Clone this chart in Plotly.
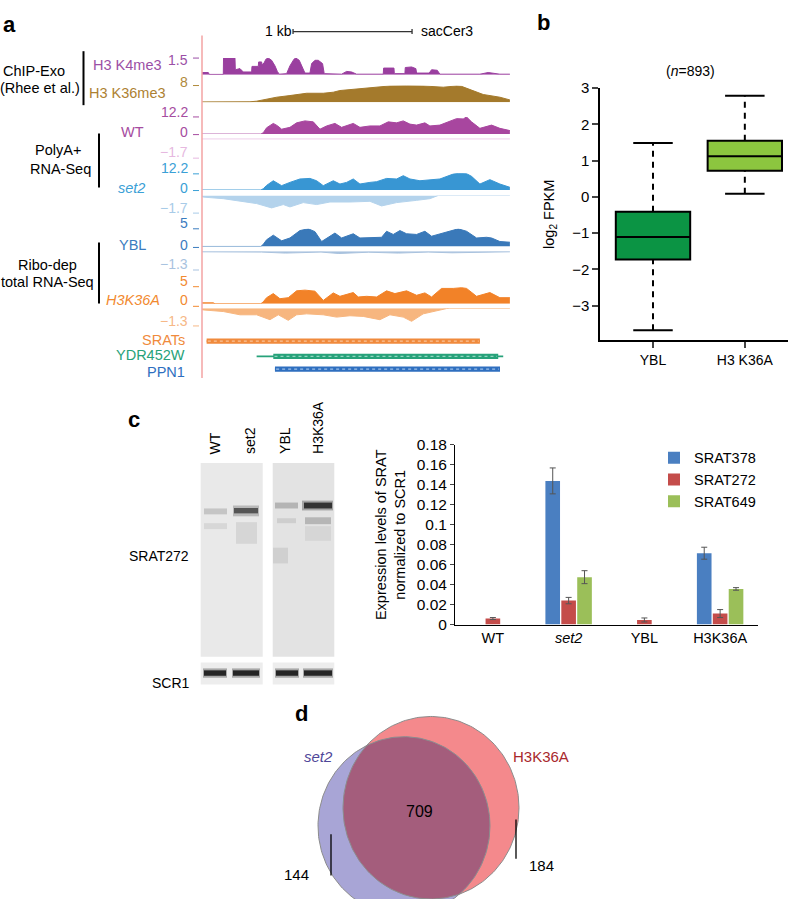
import numpy as np
import plotly.graph_objects as go

W, H = 788, 907
FONT = "Liberation Sans, Arial, Helvetica, sans-serif"

# ======================= DATA =======================
# Panel a: genome-browser coverage, (position in bp, signal) pairs, window ~2.59 kb
k4me3 = [(0, 0.2), (53, 0.2), (61, 0.03), (179, 0.03), (181, 1.5), (277, 1.5), (280, 0.45), (305, 0.5),
         (319, 0.55), (347, 0.25), (417, 0.25), (420, 0.75), (473, 0.75), (476, 1.15), (501, 1.15),
         (504, 0.9), (521, 1.05), (537, 1.4), (557, 1.5), (585, 1.3), (613, 0.8), (633, 0.3), (649, 0.05),
         (711, 0.1), (739, 0.8), (773, 1.4), (789, 1.5), (817, 1.3), (845, 0.7), (865, 0.15), (907, 0.15),
         (921, 1.0), (949, 1.3), (977, 1.3), (1013, 1.0), (1027, 0.1), (1173, 0.05), (1215, 0.3),
         (1257, 0.25), (1299, 0.05), (1523, 0.05), (1526, 0.6), (1613, 0.6), (1616, 0.1), (1705, 0.1),
         (1708, 0.65), (1761, 0.7), (1797, 0.55), (1803, 0.15), (1909, 0.15), (1929, 0.45), (1977, 0.4),
         (1999, 0.05), (2335, 0.05), (2405, 0.2), (2461, 0.15), (2503, 0.05), (2587, 0.05)]
k36me3 = [(0, 0.15), (179, 0.1), (403, 0.2), (459, 0.5), (543, 1.6), (627, 2.4), (739, 3.2), (823, 3.7),
          (879, 4.3), (1019, 4.3), (1103, 4.8), (1159, 5.6), (1299, 6.4), (1439, 7.2), (1579, 7.8),
          (1719, 7.9), (1859, 7.8), (2027, 7.2), (2139, 7.8), (2181, 7.6), (2279, 5.6), (2363, 3.7),
          (2503, 2.4), (2587, 1.1)]
wt_plus = [(0, 0), (495, 0), (515, 1.0), (543, 4.5), (599, 7.6), (633, 6.0), (669, 3.5), (739, 4.8),
           (795, 8.0), (865, 9.4), (935, 8.7), (991, 3.5), (1047, 5.8), (1117, 7.6), (1173, 4.8),
           (1271, 7.6), (1327, 4.8), (1411, 5.8), (1495, 5.8), (1565, 8.7), (1635, 8.0), (1691, 9.4),
           (1747, 7.1), (1803, 6.4), (1873, 8.0), (1915, 5.8), (1999, 6.4), (2083, 9.4), (2139, 11.0),
           (2195, 10.8), (2223, 12.2), (2265, 8.7), (2335, 4.1), (2433, 6.4), (2503, 4.1), (2587, 2.5)]
wt_minus = [(0, -0.03), (800, -0.03), (1500, -0.04), (2587, -0.03)]
set2_plus = [(0, 0), (495, 0), (515, 1.0), (543, 3.4), (599, 6.8), (633, 5.0), (669, 3.2), (739, 5.6),
             (823, 8.1), (907, 8.5), (963, 6.8), (1019, 3.2), (1103, 6.8), (1159, 4.4), (1215, 5.6),
             (1271, 8.1), (1327, 4.4), (1411, 5.6), (1467, 6.1), (1551, 8.5), (1635, 8.1), (1691, 10.5),
             (1747, 8.1), (1831, 6.8), (1915, 7.6), (1999, 8.1), (2111, 11.7), (2153, 12.2), (2223, 12.0),
             (2265, 10.0), (2335, 4.4), (2419, 7.6), (2503, 4.4), (2587, 2.0)]
set2_minus = [(0, -0.1), (11, -0.17), (179, -0.33), (319, -0.6), (459, -0.83), (585, -1.27), (683, -0.93),
              (739, -1.17), (851, -0.73), (963, -0.93), (1075, -0.67), (1243, -0.67), (1411, -0.6),
              (1509, -1.07), (1635, -0.73), (1803, -0.5), (1915, -0.33), (1985, 0), (2587, 0)]
ybl_plus = [(0, 0), (495, 0), (515, 0.6), (543, 1.9), (599, 3.2), (633, 2.4), (669, 1.6), (739, 2.4),
            (823, 4.5), (893, 5.0), (949, 4.2), (1005, 1.4), (1075, 2.9), (1117, 3.8), (1173, 2.4),
            (1271, 3.6), (1327, 2.4), (1411, 2.4), (1509, 2.6), (1551, 4.3), (1607, 3.4), (1663, 4.5),
            (1719, 3.6), (1803, 3.4), (1873, 4.3), (1929, 2.9), (1999, 3.6), (2083, 4.3), (2153, 5.0),
            (2223, 4.3), (2307, 2.4), (2391, 2.6), (2433, 2.4), (2503, 1.4), (2587, 1.2)]
ybl_minus = [(0, -0.03), (500, -0.05), (700, -0.12), (1000, -0.05), (1150, -0.15), (1400, -0.06),
             (1650, -0.12), (1900, -0.05), (2100, -0.1), (2350, -0.04), (2587, -0.03)]
h3k36a_plus = [(0, 0.3), (95, 0.3), (109, 0.05), (495, 0.05), (515, 0.6), (543, 1.8), (599, 3.0),
               (655, 1.5), (725, 1.8), (795, 3.8), (865, 4.0), (949, 3.7), (1019, 1.0), (1103, 3.2),
               (1159, 2.2), (1271, 3.3), (1313, 2.0), (1383, 2.2), (1467, 2.0), (1551, 3.8), (1621, 3.0),
               (1719, 3.8), (1803, 2.5), (1873, 3.2), (1929, 2.0), (2013, 4.5), (2111, 4.5), (2181, 4.7),
               (2223, 4.5), (2307, 2.2), (2419, 3.3), (2503, 1.8), (2587, 1.8)]
h3k36a_minus = [(0, -0.1), (11, -0.12), (179, -0.24), (319, -0.48), (459, -0.48), (571, -0.84),
                (641, -0.48), (725, -0.89), (795, -0.48), (879, -0.41), (1019, -0.48), (1131, -0.65),
                (1243, -0.55), (1355, -0.6), (1495, -0.84), (1579, -0.48), (1691, -0.65), (1761, -0.96),
                (1859, -0.41), (1971, -0.17), (2055, -0.02), (2083, 0), (2587, 0)]
track_scale_max = [1.5, 8, 12.2, -1.7, 12.2, -1.7, 5, -1.3, 5, -1.3]
track_window_bp = 2588
scalebar_bp = 1000

gene_names = ["SRATs", "YDR452W", "PPN1"]
gene_tx_start = [39, 459, 613]
gene_tx_end = [2335, 2531, 2504]
gene_cds_start = [39, 599, 613]
gene_cds_end = [2335, 2489, 2504]

# Panel b: boxplot of log2 FPKM (n=893)
box_cats = ["YBL", "H3 K36A"]
box_lower = [-3.68, 0.09]
box_q1 = [-1.73, 0.72]
box_median = [-1.11, 1.12]
box_q3 = [-0.41, 1.55]
box_upper = [1.49, 2.79]
box_n = 893
box_yticks = [-3, -2, -1, 0, 1, 2, 3]

# Panel c: qPCR bar chart
bar_cats = ["WT", "set2", "YBL", "H3K36A"]
bar_series = ["SRAT378", "SRAT272", "SRAT649"]
srat378 = [None, 0.144, None, 0.0715]
srat272 = [0.006, 0.024, 0.0046, 0.011]
srat649 = [None, 0.0475, None, 0.0357]
srat378_err = [0, 0.013, 0, 0.006]
srat272_err = [0.001, 0.0032, 0.002, 0.004]
srat649_err = [0, 0.0065, 0, 0.0013]
bar_yticks = [0, 0.02, 0.04, 0.06, 0.08, 0.1, 0.12, 0.14, 0.16, 0.18]
bar_yticklabels = ["0", "0.02", "0.04", "0.06", "0.08", "0.1", "0.12", "0.14", "0.16", "0.18"]

# Panel d: Venn counts
venn_sets = ["set2", "H3K36A"]
venn_only = [144, 184]
venn_both = 709

# ======================= HELPERS =======================
def px(x):
    return x / W


def py(y):
    return 1 - y / H


fig = go.Figure()
shapes = []
ann = []


def text(x, y, s, size=14.5, color="black", xanchor="center", yanchor="middle", angle=0, bold=False, italic=False):
    if bold:
        s = "<b>" + s + "</b>"
    if italic:
        s = "<i>" + s + "</i>"
    ann.append(dict(x=px(x), y=py(y), xref="paper", yref="paper", text=s, showarrow=False,
                    xanchor=xanchor, yanchor=yanchor, textangle=angle,
                    font=dict(family=FONT, size=size, color=color)))


def rect(x0, y0, x1, y1, fill, line=None, lw=0, opacity=1.0, xref="paper"):
    if xref == "paper":
        xx0, xx1 = px(x0), px(x1)
    else:
        xx0, xx1 = x0, x1
    shapes.append(dict(type="rect", xref=xref, yref="paper", x0=xx0, x1=xx1, y0=py(y1), y1=py(y0),
                       fillcolor=fill, opacity=opacity, layer="above",
                       line=dict(width=lw, color=line if line else fill)))


def hline(x0, x1, y, color, width=1, xref="paper", dash=None):
    if xref == "paper":
        xx0, xx1 = px(x0), px(x1)
    else:
        xx0, xx1 = x0, x1
    ln = dict(width=width, color=color)
    if dash:
        ln["dash"] = dash
    shapes.append(dict(type="line", xref=xref, yref="paper", x0=xx0, x1=xx1, y0=py(y), y1=py(y), line=ln,
                       layer="above"))


def vline(x, y0, y1, color, width=1, xref="paper"):
    xx = px(x) if xref == "paper" else x
    shapes.append(dict(type="line", xref=xref, yref="paper", x0=xx, x1=xx, y0=py(y0), y1=py(y1),
                       line=dict(width=width, color=color), layer="above"))


layout_axes = {}

# ======================= PANEL a =======================
track_data = [k4me3, k36me3, wt_plus, wt_minus, set2_plus, set2_minus, ybl_plus, ybl_minus,
              h3k36a_plus, h3k36a_minus]
# layout: (pixel y at scale max, pixel y at baseline)
track_geom = [(50, 67), (78, 95), (110, 127.5), (152, 132), (167.5, 184.5), (207, 190),
              (224, 242), (266, 247), (283, 300.5), (323, 305)]
track_colors = ["#9a3f9f", "#a47a2c", "#a8469f", "#ecc6e6", "#3896d3", "#b4d3ec",
                "#3a79b9", "#a9c2de", "#f28228", "#f7b67f"]

layout_axes["xaxis"] = dict(domain=[px(202), px(510)], range=[0, track_window_bp], visible=False,
                            anchor="y", fixedrange=True)
for i, (data, (ymax_px, base_px), col, smax) in enumerate(zip(track_data, track_geom, track_colors,
                                                              track_scale_max)):
    name = "yaxis" if i == 0 else f"yaxis{i + 1}"
    ref = "y" if i == 0 else f"y{i + 1}"
    top_px, bot_px = min(ymax_px, base_px), max(ymax_px, base_px)
    rng = [0, smax] if smax > 0 else [smax, 0]
    layout_axes[name] = dict(domain=[py(bot_px), py(top_px)], range=rng, visible=False, anchor="x")
    xs = [p for p, v in data]
    ys = [v for p, v in data]
    fig.add_trace(go.Scatter(x=xs, y=ys, mode="lines", fill="tozeroy", fillcolor=col,
                             line=dict(color=col, width=1), xaxis="x", yaxis=ref, showlegend=False,
                             hoverinfo="skip"))

# scale labels and ticks (left of the tracks)
scale_lbl = [("1.5", 52, 50, "#9b4fa6"), ("8", 74, 78, "#b08a3a"), ("12.2", 105, 110, "#a64ca0"),
             ("0", 125, 128, "#a64ca0"), ("\u22121.7", 146, 152, "#e6b8e0"), ("12.2", 162, 168, "#3aa0d6"),
             ("0", 182, 185, "#3aa0d6"), ("\u22121.7", 203, 208, "#a8cbe8"), ("5", 218, 224, "#3b7cbf"),
             ("0", 240, 243, "#3b7cbf"), ("\u22121.3", 260, 266, "#a9c3e0"), ("5", 277, 283, "#f28a30"),
             ("0", 297, 303, "#f28a30"), ("\u22121.3", 318, 323, "#f6b887")]
for s, ly, ty, c in scale_lbl:
    text(190, ly, s, size=14, color=c, xanchor="right")
    hline(193, 199, ty, c, width=1)

# browser red vertical line
vline(202, 27, 376, "#f3a3a3", width=1.5)

# left-side track labels
text(34, 63, "ChIP-Exo")
text(40, 81, "(Rhee et al.)")
vline(83.5, 43, 98, "black", width=2)
text(128, 57, "H3 K4me3", color="#9b4fa6")
text(127, 86, "H3 K36me3", color="#ad8132")
text(132, 125, "WT", color="#a64ca0")
text(58, 144, "PolyA+")
text(60, 163, "RNA-Seq")
vline(99, 127, 182, "black", width=2)
text(131, 182, "set2", color="#3aa0d6", italic=True)
text(132, 240, "YBL", color="#3b7cbf")
text(47, 261, "Ribo-dep")
text(47, 278, "total RNA-Seq")
vline(99, 238, 300, "black", width=2)
text(133, 297, "H3K36A", color="#f28a30", italic=True)

# scale bar
sb0 = 765
shapes.append(dict(type="line", xref="x", yref="paper", x0=sb0, x1=sb0 + scalebar_bp, y0=py(23), y1=py(23),
                   line=dict(color="#333", width=1.3)))
for xb in (sb0, sb0 + scalebar_bp):
    shapes.append(dict(type="line", xref="x", yref="paper", x0=xb, x1=xb, y0=py(20.5), y1=py(25.5),
                       line=dict(color="#333", width=1.3)))
text(278, 22, "1 kb", size=14)
text(447, 22, "sacCer3", size=14)

# gene models
gene_y = [338.5, 354, 367]
gene_cols = ["#f08a3c", "#27a27a", "#2f6fbf"]
gene_inner = ["#f8c39a", "#92d6c0", "#9cc0ea"]
for nm, ts, te, cs, ce, gy, gc, gi in zip(gene_names, gene_tx_start, gene_tx_end, gene_cds_start,
                                          gene_cds_end, gene_y, gene_cols, gene_inner):
    rect(ts, gy - 1, te, gy + 1, gc, xref="x")
    rect(cs, gy - 2.6, ce, gy + 2.6, gc, xref="x")
    hline(cs + 10, ce - 10, gy, gi, width=1.3, xref="x", dash="dot")
    text(187, gy - 1 if nm != "PPN1" else gy + 3, nm, color=gc, xanchor="right")

# ======================= PANEL b =======================
box_cols = ["#0b9444", "#8cc63f"]
bw, cw = 0.81, 0.43
layout_axes["xaxis2"] = dict(domain=[px(600), px(788)], range=[-0.577, 1.47], anchor="y11",
                             tickvals=[0, 1], ticktext=box_cats, ticks="outside", ticklen=6, tickwidth=1.5,
                             showline=True, linecolor="black", linewidth=1.5, showgrid=False, zeroline=False,
                             tickfont=dict(family=FONT, size=14, color="black"), fixedrange=True)
layout_axes["yaxis11"] = dict(domain=[py(337.7), py(80.7)], range=[-3.96, 3], anchor="x2",
                              tickvals=box_yticks, ticks="outside", ticklen=6, tickwidth=1.5,
                              showline=True, linecolor="black", linewidth=1.5, showgrid=False,
                              zeroline=False, tickfont=dict(family=FONT, size=15, color="black"),
                              title=dict(text="log<sub>2</sub> FPKM", standoff=14,
                                         font=dict(family=FONT, size=14.5, color="black")),
                              fixedrange=True)
xb = list(range(len(box_cats)))
fig.add_trace(go.Bar(x=xb, base=box_q1, y=[q3 - q1 for q1, q3 in zip(box_q1, box_q3)], width=bw,
                     marker=dict(color=box_cols, line=dict(color="black", width=2)),
                     xaxis="x2", yaxis="y11", showlegend=False, hoverinfo="skip"))
for i in xb:
    fig.add_trace(go.Scatter(x=[i - bw / 2, i + bw / 2], y=[box_median[i]] * 2, mode="lines",
                             line=dict(color="black", width=2), xaxis="x2", yaxis="y11", showlegend=False))
    for a, b in ((box_q3[i], box_upper[i]), (box_lower[i], box_q1[i])):
        fig.add_trace(go.Scatter(x=[i, i], y=[a, b], mode="lines",
                                 line=dict(color="black", width=2, dash="6px,5px"),
                                 xaxis="x2", yaxis="y11", showlegend=False))
    for v in (box_upper[i], box_lower[i]):
        fig.add_trace(go.Scatter(x=[i - cw / 2, i + cw / 2], y=[v, v], mode="lines",
                                 line=dict(color="black", width=2), xaxis="x2", yaxis="y11",
                                 showlegend=False))
text(690, 63, f"(<i>n</i>={box_n})", size=14)

# ======================= PANEL c (bars) =======================
bar_cols = ["#4a7fc1", "#c44c4a", "#9bbf59"]
bar_vals = [srat378, srat272, srat649]
bar_errs = [srat378_err, srat272_err, srat649_err]
tick_txt = [("<i>" + c + "</i>") if c == "set2" else c for c in bar_cats]
for nm, vals, errs, col in zip(bar_series, bar_vals, bar_errs, bar_cols):
    fig.add_trace(go.Bar(x=bar_cats, y=vals, name=nm, marker=dict(color=col, line=dict(width=0)),
                         error_y=dict(type="data", array=errs, color="#555555", thickness=1, width=3),
                         xaxis="x3", yaxis="y12"))
layout_axes["xaxis3"] = dict(domain=[px(455), px(758)], anchor="y12", showline=True, linecolor="black",
                             linewidth=1, ticks="", tickvals=bar_cats, ticktext=tick_txt,
                             tickfont=dict(family=FONT, size=14.5, color="black"), fixedrange=True)
layout_axes["yaxis12"] = dict(domain=[py(627.3), py(444.3)], range=[0, 0.18], anchor="x3",
                              tickvals=bar_yticks, ticktext=bar_yticklabels, ticks="outside", ticklen=4,
                              showline=True, linecolor="black", linewidth=1, showgrid=False, zeroline=False,
                              tickfont=dict(family=FONT, size=15.5, color="black"),
                              title=dict(text="Expression levels of SRAT<br>normalized to SCR1", standoff=7,
                                         font=dict(family=FONT, size=14.5, color="black")),
                              fixedrange=True)

# ======================= PANEL c (blot) =======================
memb = [(200.7, 262.7, "#e9e9e9"), (272.7, 334.3, "#e3e3e3")]
for x0, x1, c in memb:
    rect(x0, 462.7, x1, 660, c)
    rect(x0, 666, x1, 688.3, "#ededed")
# bands: (x0, x1, y0, y1, colour, opacity)
bands = [
    (204, 227, 509, 515, "#b5b5b5", 0.7), (204, 227, 524, 530, "#cfcfcf", 0.7),
    (233, 259, 506, 517, "#9a9a9a", 0.6), (234, 258, 508.5, 514, "#4a4a4a", 0.9),
    (236, 257, 523, 545, "#cdcdcd", 0.7),
    (275, 298, 503, 509, "#a8a8a8", 0.8), (277, 296, 519, 524, "#c8c8c8", 0.8),
    (273, 288, 549, 565, "#c8c8c8", 0.7),
    (302, 333, 501, 511, "#7a7a7a", 0.6), (304, 332, 503, 509, "#2c2c2c", 0.95),
    (305, 331, 518, 525, "#aaaaaa", 0.8), (305, 331, 527, 542, "#d2d2d2", 0.8),
]
for x0, x1, y0, y1, c, o in bands:
    rect(x0, y0, x1, y1, c, opacity=o)
for x0, x1 in [(203, 227), (232, 260), (275, 299), (303, 333)]:
    rect(x0, 672, x1, 681.5, "#8a8a8a", opacity=0.7)
    rect(x0 + 1, 674, x1 - 1, 679.5, "#1e1e1e", opacity=0.95)
for lx, s in [(215, "WT"), (250, "set2"), (285, "YBL"), (318, "H3K36A")]:
    text(lx, 456, s, size=14, angle=-90, yanchor="bottom")
text(159, 557, "SRAT272", size=14)
text(171, 687, "SCR1", size=14)

# ======================= PANEL d (Venn) =======================
# x in px units; y units compressed by the figure's vertical stretch so circles render slightly tall
v_stretch = 1.057
layout_axes["xaxis4"] = dict(domain=[px(280), px(580)], range=[280, 580], visible=False, anchor="y13",
                             fixedrange=True)
layout_axes["yaxis13"] = dict(domain=[0, py(700)], range=[700 + 207 / v_stretch, 700], visible=False,
                              anchor="x4", fixedrange=True)
tot = [venn_only[0] + venn_both, venn_only[1] + venn_both]
r_ref = 88.0
radii = [r_ref * np.sqrt(t / max(tot)) for t in tot]
centers = [(404.0, 700 + 132.5 / v_stretch), (431.0, 700 + 114.0 / v_stretch)]
venn_fill = ["#a8a5d6", "#f4898c"]
th = np.linspace(0, 2 * np.pi, 240)
for k in (1, 0):
    (cx, cy), r = centers[k], radii[k]
    fig.add_trace(go.Scatter(x=cx + r * np.cos(th), y=cy + r * np.sin(th), mode="lines", fill="toself",
                             fillcolor=venn_fill[k], line=dict(width=0), xaxis="x4", yaxis="y13",
                             showlegend=False, hoverinfo="skip"))
# lens (intersection)
(x1c, y1c), (x2c, y2c) = centers
r1, r2 = radii
d = np.hypot(x2c - x1c, y2c - y1c)
a = (r1 ** 2 - r2 ** 2 + d ** 2) / (2 * d)
phi = np.arctan2(y2c - y1c, x2c - x1c)
al1 = np.arccos(a / r1)
al2 = np.arccos((d - a) / r2)
t1 = np.linspace(phi - al1, phi + al1, 150)
t2 = np.linspace(phi + np.pi - al2, phi + np.pi + al2, 150)
lx = np.concatenate([x1c + r1 * np.cos(t1), x2c + r2 * np.cos(t2)])
ly = np.concatenate([y1c + r1 * np.sin(t1), y2c + r2 * np.sin(t2)])
fig.add_trace(go.Scatter(x=lx, y=ly, mode="lines", fill="toself", fillcolor="#a45d7c", line=dict(width=0),
                         xaxis="x4", yaxis="y13", showlegend=False, hoverinfo="skip"))
for k in (0, 1):
    (cx, cy), r = centers[k], radii[k]
    fig.add_trace(go.Scatter(x=cx + r * np.cos(th), y=cy + r * np.sin(th), mode="lines",
                             line=dict(width=1, color="#8c8c8c"), xaxis="x4", yaxis="y13",
                             showlegend=False, hoverinfo="skip"))
text(419, 818, str(venn_both), size=16)
text(296, 882, str(venn_only[0]), size=15)
text(541, 873, str(venn_only[1]), size=15)
vline(331, 841, 883, "black", width=1.3)
vline(516, 826, 866, "black", width=1.3)
text(318, 762, venn_sets[0], size=15, color="#4f4799", italic=True)
text(541, 762, venn_sets[1], size=15, color="#a8282c")

# panel letters
text(9, 16, "a", size=22, bold=True)
text(543, 14, "b", size=22, bold=True)
text(134, 418, "c", size=22, bold=True)
text(301, 718, "d", size=22, bold=True)

fig.update_layout(width=W, height=H, margin=dict(l=0, r=0, t=0, b=0), paper_bgcolor="white",
                  plot_bgcolor="rgba(0,0,0,0)", font=dict(family=FONT, size=14, color="black"),
                  barmode="group", bargap=0.37, bargroupgap=0.08, shapes=shapes, annotations=ann,
                  showlegend=True, hovermode=False,
                  legend=dict(x=px(654), y=py(441), xanchor="left", yanchor="top", bgcolor="rgba(0,0,0,0)",
                              font=dict(family=FONT, size=14.5, color="black"), tracegroupgap=0,
                              itemwidth=30),
                  **layout_axes)
fig.write_html("out.html", config={"responsive": False, "displayModeBar": False},
               post_script="document.body.style.margin='0';document.body.style.overflow='hidden';")
